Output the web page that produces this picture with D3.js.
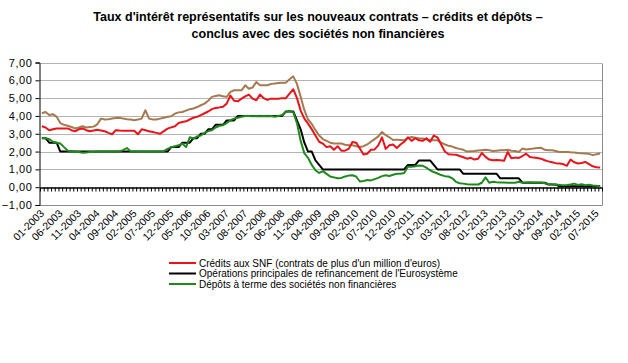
<!DOCTYPE html>
<html lang="fr">
<head>
<meta charset="utf-8">
<title>Taux d'intérêt SNF</title>
<script src="https://cdn.jsdelivr.net/npm/d3@7"></script>
<style>
  body { margin: 0; background: #fff; }
  svg text { font-family: "Liberation Sans", Arial, sans-serif; }
</style>
</head>
<body>
<script>
// data, one value per month, 01-2003 .. 08-2015
var credits = [
  3.42, 3.35, 3.2, 3.25, 3.3, 3.3, 3.3, 3.3, 3.2, 3.14, 3.25, 3.3,
  3.2, 3.14, 3.18, 3.22, 3.18, 3.14, 3.05, 2.97, 3.2, 3.18, 3.17, 3.17,
  3.17, 3.17, 2.97, 3.25, 3.2, 3.14, 3.1, 3.05, 3.0, 3.15, 3.29, 3.36,
  3.42, 3.6, 3.66, 3.7, 3.8, 3.9, 3.95, 4.05, 4.15, 4.25, 4.38, 4.45,
  4.48, 4.52, 4.69, 5.15, 4.85, 4.82, 4.97, 5.1, 5.2, 4.97, 4.88, 5.2,
  5.0, 4.9, 4.97, 4.97, 4.97, 5.0, 5.0, 5.25, 5.5, 5.0, 4.3, 3.85,
  3.57, 3.25, 2.9, 2.55, 2.45, 2.25, 2.3, 2.1, 2.3, 2.05, 2.05, 2.15,
  2.54, 2.5, 2.17, 1.83, 1.88, 2.1, 2.12, 2.35, 2.8, 2.15, 2.35, 2.4,
  2.2, 2.4, 2.55, 2.8, 2.6, 2.75, 2.63, 2.6, 2.75, 2.55, 2.9, 2.8,
  2.4, 2.0, 1.85, 1.83, 1.82, 1.75, 1.68, 1.6, 1.65, 1.55, 1.6, 1.92,
  1.7, 1.55, 1.51, 1.52, 1.51, 1.48, 1.98, 1.62, 1.66, 1.64, 1.75, 1.88,
  1.7, 1.66, 1.64, 1.6, 1.51, 1.45, 1.4, 1.35, 1.33, 1.3, 1.2, 1.55,
  1.4, 1.33, 1.36, 1.42, 1.3, 1.17, 1.12, 1.1
];

// brown series (not in the legend)
var creditsSmall = [
  4.15, 4.22, 4.05, 4.1, 3.95, 3.6, 3.5, 3.45, 3.38, 3.3, 3.35, 3.42,
  3.35, 3.38, 3.4, 3.53, 3.85, 3.8, 3.82, 3.85, 3.88, 3.9, 3.85, 3.82,
  3.8, 3.76, 3.8, 3.85, 4.32, 3.85, 3.8, 3.8, 3.85, 3.9, 3.95, 3.98,
  4.13, 4.2, 4.22, 4.3, 4.38, 4.42, 4.5, 4.6, 4.69, 4.85, 5.07, 5.12,
  5.16, 5.1, 5.07, 5.35, 5.44, 5.44, 5.44, 5.72, 5.53, 5.6, 5.9, 5.72,
  5.72, 5.72, 5.8, 5.82, 5.85, 5.86, 5.87, 6.06, 6.22, 5.8, 5.07, 4.32,
  3.8, 3.55, 3.2, 2.9, 2.7, 2.6, 2.5, 2.45, 2.45, 2.45, 2.38, 2.35,
  2.35, 2.3, 2.26, 2.3, 2.4, 2.55, 2.7, 2.85, 3.1, 2.92, 2.8, 2.65,
  2.67, 2.65, 2.63, 2.75, 2.82, 2.78, 2.73, 2.73, 2.68, 2.63, 2.63, 2.63,
  2.5, 2.4, 2.33, 2.28, 2.2, 2.15, 2.1, 2.0, 2.02, 2.03, 2.06, 2.08,
  2.1, 2.07, 2.03, 2.05, 2.07, 2.08, 2.1, 2.05, 2.03, 1.98, 2.17, 2.12,
  2.15, 2.17, 2.2, 2.22, 2.1, 2.07, 2.07, 2.03, 1.98, 1.98, 1.98, 1.96,
  1.95, 1.92, 1.9, 1.89, 1.87, 1.8, 1.85, 1.89
];

var mro = [
  2.75, 2.75, 2.5, 2.5, 2.5, 2.0, 2.0, 2.0, 2.0, 2.0, 2.0, 2.0,
  2.0, 2.0, 2.0, 2.0, 2.0, 2.0, 2.0, 2.0, 2.0, 2.0, 2.0, 2.0,
  2.0, 2.0, 2.0, 2.0, 2.0, 2.0, 2.0, 2.0, 2.0, 2.0, 2.0, 2.25,
  2.25, 2.25, 2.5, 2.5, 2.5, 2.75, 2.75, 3.0, 3.0, 3.25, 3.25, 3.5,
  3.5, 3.5, 3.75, 3.75, 3.75, 4.0, 4.0, 4.0, 4.0, 4.0, 4.0, 4.0,
  4.0, 4.0, 4.0, 4.0, 4.0, 4.0, 4.25, 4.25, 4.25, 3.75, 3.25, 2.5,
  2.0, 2.0, 1.5, 1.25, 1.0, 1.0, 1.0, 1.0, 1.0, 1.0, 1.0, 1.0,
  1.0, 1.0, 1.0, 1.0, 1.0, 1.0, 1.0, 1.0, 1.0, 1.0, 1.0, 1.0,
  1.0, 1.0, 1.0, 1.25, 1.25, 1.25, 1.5, 1.5, 1.5, 1.5, 1.25, 1.0,
  1.0, 1.0, 1.0, 1.0, 1.0, 1.0, 0.75, 0.75, 0.75, 0.75, 0.75, 0.75,
  0.75, 0.75, 0.75, 0.75, 0.5, 0.5, 0.5, 0.5, 0.5, 0.5, 0.25, 0.25,
  0.25, 0.25, 0.25, 0.25, 0.25, 0.15, 0.15, 0.15, 0.05, 0.05, 0.05, 0.05,
  0.05, 0.05, 0.05, 0.05, 0.05, 0.05, 0.05, 0.05
];

var deposits = [
  2.77, 2.75, 2.7, 2.55, 2.5, 2.45, 2.25, 2.05, 2.03, 2.0, 1.97, 1.93,
  1.95, 1.97, 1.98, 2.0, 2.0, 2.0, 2.0, 2.0, 2.0, 2.02, 2.08, 2.2,
  2.02, 2.0, 2.0, 2.0, 2.0, 2.0, 2.0, 2.0, 2.0, 2.02, 2.15, 2.25,
  2.3, 2.35, 2.45, 2.25, 2.8, 2.73, 2.85, 2.9, 3.05, 3.15, 3.2, 3.35,
  3.45, 3.48, 3.6, 3.76, 3.85, 3.9, 3.95, 4.0, 4.0, 3.98, 4.0, 3.98,
  4.0, 3.98, 4.0, 3.95, 4.0, 4.05, 4.22, 4.28, 4.2, 3.6, 2.6, 1.9,
  1.65, 1.25, 0.95, 0.8, 0.9, 0.75, 0.6, 0.55, 0.5, 0.52, 0.6, 0.65,
  0.67, 0.6, 0.32, 0.35, 0.4, 0.38, 0.45, 0.52, 0.62, 0.67, 0.63, 0.7,
  0.75, 0.75, 0.8, 1.15, 1.15, 1.18, 1.22, 1.2, 1.1, 0.95, 0.85, 0.77,
  0.68, 0.62, 0.6, 0.5, 0.3, 0.22, 0.2, 0.17, 0.15, 0.15, 0.15, 0.25,
  0.55, 0.25, 0.3, 0.28, 0.27, 0.26, 0.25, 0.25, 0.25, 0.3, 0.25, 0.27,
  0.28, 0.27, 0.26, 0.26, 0.22, 0.18, 0.15, 0.14, 0.13, 0.11, 0.12, 0.15,
  0.2, 0.13, 0.17, 0.11, 0.14, 0.09, 0.08, 0.02
];

var xLabels = [
  "01-2003", "06-2003", "11-2003", "04-2004", "09-2004", "02-2005", "07-2005",
  "12-2005", "05-2006", "10-2006", "03-2007", "08-2007", "01-2008", "06-2008",
  "11-2008", "04-2009", "09-2009", "02-2010", "07-2010", "12-2010", "05-2011",
  "10-2011", "03-2012", "08-2012", "01-2013", "06-2013", "11-2013", "04-2014",
  "09-2014", "02-2015", "07-2015"
];
var yTicks = [-1, 0, 1, 2, 3, 4, 5, 6, 7];

var titleLines = [
  "Taux d'intérêt représentatifs sur les nouveaux contrats – crédits et dépôts –",
  "conclus avec des sociétés non financières"
];
var legendLabels = [
  "Crédits aux SNF (contrats de plus d'un million d'euros)",
  "Opérations principales de refinancement de l'Eurosystème",
  "Dépôts à terme des sociétés non financières"
];

// months as categories
var months = d3.timeMonths(new Date(2003, 0, 1), new Date(2015, 8, 1))
  .map(d3.timeFormat("%m-%Y"));

var w = 628, h = 363;
var plotL = 40, plotR = 602, plotT = 62.5, plotB = 205;

var svg = d3.select("body").append("svg")
  .attr("width", w)
  .attr("height", h);

var x = d3.scaleLinear().domain([0, months.length]).range([plotL, plotR]);
var y = d3.scaleLinear().domain([-1, 7]).range([plotB, plotT]);

// title
svg.selectAll(".title")
  .data(titleLines)
  .enter().append("text")
  .attr("class", "title")
  .attr("x", 318)
  .attr("y", function (d, i) { return 21 + i * 17; })
  .attr("text-anchor", "middle")
  .attr("font-size", "12.5px")
  .attr("font-weight", "bold")
  .text(function (d) { return d; });

// gridlines
svg.append("g")
  .selectAll("line")
  .data(yTicks.filter(function (d) { return d > 0; }))
  .enter().append("line")
  .attr("x1", plotL).attr("x2", plotR)
  .attr("y1", function (d) { return Math.round(y(d)) + 0.5; })
  .attr("y2", function (d) { return Math.round(y(d)) + 0.5; })
  .attr("stroke", "#b3b3b3");

// plot border (right and bottom)
svg.append("path")
  .attr("d", "M" + (plotR + 0.5) + "," + (Math.round(plotT) + 0.5) + "V" + (Math.round(plotB) + 0.5) + "H" + plotL)
  .attr("fill", "none")
  .attr("stroke", "#8c8c8c");

// y axis
var fmt = d3.format(".2f");
var yAxis = svg.append("g")
  .attr("transform", "translate(" + (plotL - 0.5) + ",0)")
  .call(d3.axisLeft(y).tickValues(yTicks).tickSize(4).tickPadding(3)
    .tickFormat(function (d) { return fmt(d).replace(".", ","); }));
yAxis.selectAll("text")
  .attr("font-family", "\"Liberation Sans\", Arial, sans-serif")
  .attr("font-size", "11px")
  .attr("letter-spacing", "0.6px");
yAxis.select(".domain").attr("stroke", "#000");

// x axis at zero, ticks between categories
var xAxis = svg.append("g")
  .attr("transform", "translate(0," + (Math.round(y(0)) + 0.5) + ")")
  .call(d3.axisBottom(x).tickValues(d3.range(months.length + 1)).tickSize(4).tickSizeOuter(0).tickFormat(""));
xAxis.selectAll("line").attr("stroke", "#000");
xAxis.select(".domain").attr("stroke", "#000").attr("stroke-width", 1.5);

// x labels
svg.append("g")
  .selectAll("text")
  .data(xLabels)
  .enter().append("text")
  .attr("transform", function (d) {
    var i = months.indexOf(d);
    return "translate(" + (x(i + 0.5) + 3) + "," + (plotB + 9) + ") rotate(-45)";
  })
  .attr("text-anchor", "end")
  .attr("font-size", "10.5px")
  .text(function (d) { return d; });

// lines
var series = [
  { values: creditsSmall, color: "#a57a50" },
  { values: credits, color: "#e8141a" },
  { values: mro, color: "#000000" },
  { values: deposits, color: "#1e8a1e" }
];

var line = d3.line()
  .x(function (d, i) { return x(i + 0.5); })
  .y(function (d) { return y(d); });

svg.append("g")
  .selectAll("path")
  .data(series)
  .enter().append("path")
  .attr("d", function (d) { return line(d.values); })
  .attr("fill", "none")
  .attr("stroke", function (d) { return d.color; })
  .attr("stroke-width", 2)
  .attr("stroke-linejoin", "round");

// legend
var legendColors = ["#e8141a", "#000000", "#1e8a1e"];
var legend = svg.append("g")
  .selectAll("g")
  .data(legendLabels)
  .enter().append("g")
  .attr("transform", function (d, i) { return "translate(169," + (263 + i * 10.5) + ")"; });

legend.append("line")
  .attr("x1", 0).attr("x2", 27)
  .attr("stroke", function (d, i) { return legendColors[i]; })
  .attr("stroke-width", 2);

legend.append("text")
  .attr("x", 30)
  .attr("y", 3.5)
  .attr("font-size", "10px")
  .text(function (d) { return d; });
</script>
</body>
</html>
